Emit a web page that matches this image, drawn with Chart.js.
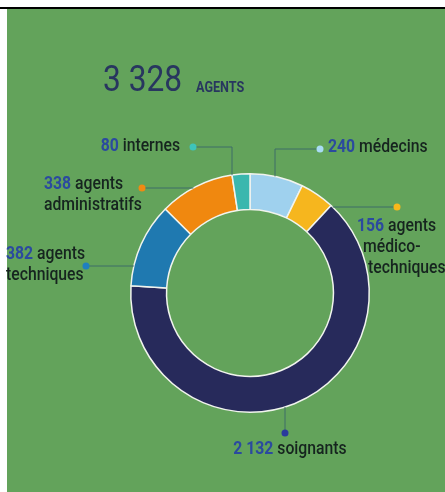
<!DOCTYPE html>
<html>
<head>
<meta charset="utf-8">
<script src="https://cdn.jsdelivr.net/npm/chart.js@4.4.1/dist/chart.umd.min.js"></script>
<style>
html,body{margin:0;padding:0;background:#fff;}
#wrap{width:445px;height:492px;position:relative;}
</style>
</head>
<body>
<div id="wrap"><canvas id="c" width="445" height="492"></canvas></div>
<script>
// ---- data ----
const categories = ['médecins', 'agents médico-techniques', 'soignants', 'agents techniques', 'agents administratifs', 'internes'];
const values = [240, 156, 2132, 382, 338, 80];
const labelLines = [['médecins'], ['agents', 'médico-', 'techniques'], ['soignants'], ['agents', 'techniques'], ['agents', 'administratifs'], ['internes']];
const titleUnit = 'AGENTS';

// ---- styles / layout ----
const colors = ['#9fd1ee', '#f6b61e', '#272a5b', '#1f79b0', '#f0880f', '#3bb7ae'];
const dotColors = ['#a9dcf5', '#f7b81a', '#2a3a9c', '#1f7fc0', '#f08a12', '#3ec4ba'];
const BG = '#63a35b';
const FONT = 'Roboto, "DejaVu Sans", sans-serif';
const NUM_COLOR = '#2b4a9f';
const TXT_COLOR = '#16241f';
const LINE_COLOR = '#3f6d68';
// annotation layout relative to doughnut centre
const annot = [
  {dot: [70, -144], leader: 'v', elbowX: 25, side: 'top', lines: [[78, -145]], align: 'left'},
  {dot: [147, -86], leader: 'h', side: 'right', lines: [[107, -66], [113, -45], [118, -24]], align: 'left'},
  {dot: [35, 140], leader: 'v', elbowX: 35, side: 'bottom', lines: [[40, 157]], align: 'center'},
  {dot: [-164, -27], leader: 'h', side: 'left', lines: [[-244, -38], [-244, -17]], align: 'left'},
  {dot: [-108, -105], leader: 'h', side: 'left', lines: [[-206, -108], [-206, -87]], align: 'left'},
  {dot: [-57, -146], leader: 'v', elbowX: -18, side: 'top', lines: [[-70, -146]], align: 'right'}
];

function fmt(v) { return String(v).replace(/\B(?=(\d{3})+(?!\d))/g, ' '); }
function tw(ctx, t, font, sx) { ctx.font = font; return ctx.measureText(t).width * sx; }
function txt(ctx, t, x, y, font, color, sx) {
  ctx.save();
  ctx.font = font;
  ctx.fillStyle = color;
  ctx.textAlign = 'left';
  ctx.translate(x, y);
  ctx.scale(sx, 1);
  ctx.fillText(t, 0, 0);
  ctx.restore();
}

const bgPlugin = {
  id: 'bg',
  beforeDraw(chart) {
    const ctx = chart.ctx;
    ctx.save();
    ctx.fillStyle = '#ffffff';
    ctx.fillRect(0, 0, chart.width, chart.height);
    ctx.fillStyle = '#000000';
    ctx.fillRect(0, 7, chart.width, 2);
    ctx.fillStyle = BG;
    ctx.fillRect(7, 9, chart.width - 7, chart.height - 9);
    // title
    const total = values.reduce((a, b) => a + b, 0);
    ctx.textBaseline = 'alphabetic';
    const f1 = '36px ' + FONT;
    txt(ctx, fmt(total), 103, 91, f1, '#28365f', 0.88);
    const w = tw(ctx, fmt(total), f1, 0.88);
    txt(ctx, titleUnit, 103 + w + 14, 92, 'bold 14px ' + FONT, '#28365f', 0.9);
    ctx.restore();
  }
};

const labelPlugin = {
  id: 'labels',
  afterDatasetsDraw(chart) {
    const ctx = chart.ctx;
    const meta = chart.getDatasetMeta(0);
    const arc0 = meta.data[0];
    const cx = arc0.x, cy = arc0.y, R = arc0.outerRadius;
    const SX = 0.9;
    ctx.save();
    annot.forEach((a, i) => {
      const dx = cx + a.dot[0], dy = cy + a.dot[1];
      ctx.strokeStyle = LINE_COLOR;
      ctx.lineWidth = 1;
      ctx.beginPath();
      ctx.moveTo(dx, dy);
      if (a.leader === 'v') {
        const ex = a.elbowX;
        const ey = Math.sqrt(Math.max(R * R - ex * ex, 0));
        ctx.lineTo(cx + ex, dy);
        ctx.lineTo(cx + ex, a.side === 'top' ? cy - ey : cy + ey);
      } else {
        const yy = a.dot[1];
        const xx = Math.sqrt(Math.max(R * R - yy * yy, 0));
        ctx.lineTo(a.side === 'right' ? cx + xx : cx - xx, dy);
      }
      ctx.stroke();
      ctx.fillStyle = dotColors[i];
      ctx.beginPath();
      ctx.arc(dx, dy, 3.5, 0, Math.PI * 2);
      ctx.fill();
      // text
      ctx.textBaseline = 'middle';
      const num = fmt(values[i]);
      const fb = 'bold 17.5px ' + FONT, fr = '500 17.5px ' + FONT;
      a.lines.forEach((p, k) => {
        const tx = cx + p[0], ty = cy + p[1];
        if (k === 0) {
          const nw = tw(ctx, num, fb, SX) + tw(ctx, ' ', fr, SX);
          const full = nw + tw(ctx, labelLines[i][0], fr, SX);
          let x0 = tx;
          if (a.align === 'right') x0 = tx - full;
          if (a.align === 'center') x0 = tx - full / 2;
          txt(ctx, num, x0, ty, fb, NUM_COLOR, SX);
          txt(ctx, labelLines[i][0], x0 + nw, ty, fr, TXT_COLOR, SX);
        } else {
          txt(ctx, labelLines[i][k], tx, ty, fr, TXT_COLOR, SX);
        }
      });
    });
    ctx.restore();
  }
};

new Chart(document.getElementById('c'), {
  type: 'doughnut',
  data: {
    labels: categories,
    datasets: [{
      data: values,
      backgroundColor: colors,
      borderColor: '#f1f4ee',
      borderWidth: 1.5,
      hoverOffset: 0
    }]
  },
  options: {
    responsive: false,
    animation: false,
    cutout: '70%',
    layout: {padding: {left: 130, right: 75, top: 172, bottom: 78}},
    plugins: {legend: {display: false}, tooltip: {enabled: false}},
    events: []
  },
  plugins: [bgPlugin, labelPlugin]
});
</script>
</body>
</html>
